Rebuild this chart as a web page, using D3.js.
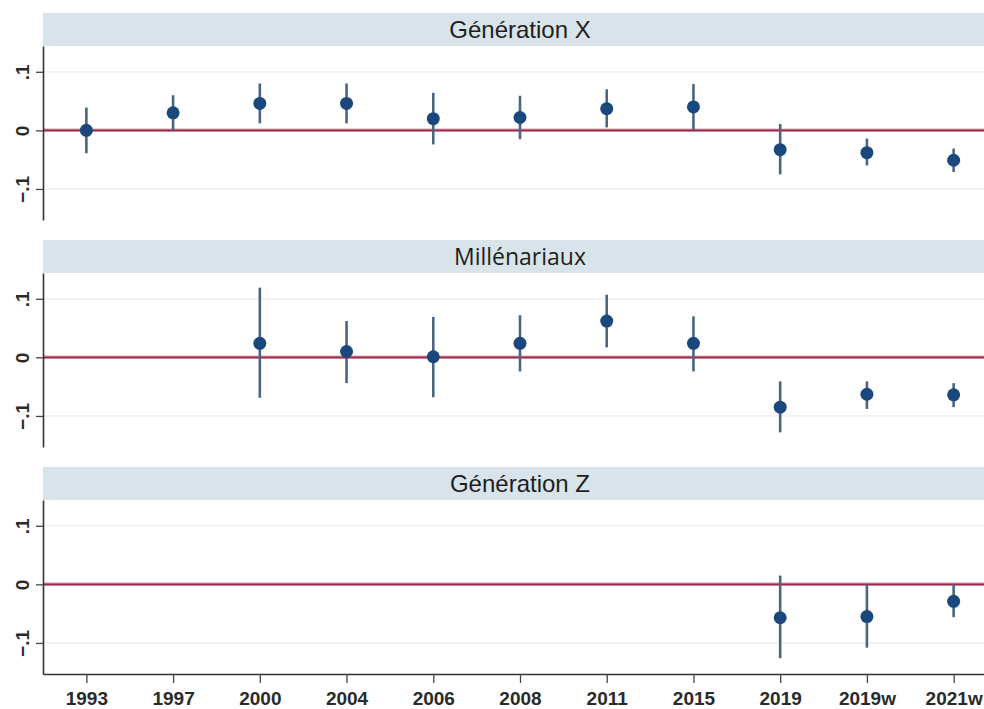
<!DOCTYPE html>
<html>
<head>
<meta charset="utf-8">
<script src="https://d3js.org/d3.v7.min.js"></script>
<style>
  body { margin: 0; background: #fff; }
  svg { display: block; }
</style>
</head>
<body>
<svg id="chart" width="984" height="709"></svg>
<script>
  // categories (survey waves)
  const years = ["1993", "1997", "2000", "2004", "2006", "2008", "2011", "2015", "2019", "2019w", "2021w"]

  // Génération X : estimate, lower CI, upper CI
  const genX_est = [0.000, 0.030, 0.046, 0.046, 0.020, 0.022, 0.037, 0.040, -0.033, -0.038, -0.051]
  const genX_lo = [-0.039, 0.000, 0.012, 0.012, -0.024, -0.015, 0.005, 0.001, -0.075, -0.060, -0.071]
  const genX_hi = [0.039, 0.060, 0.080, 0.080, 0.064, 0.059, 0.070, 0.079, 0.011, -0.014, -0.031]

  // Millénariaux
  const mill_est = [null, null, 0.024, 0.010, 0.001, 0.024, 0.062, 0.024, -0.085, -0.063, -0.064]
  const mill_lo = [null, null, -0.069, -0.044, -0.068, -0.024, 0.017, -0.024, -0.128, -0.088, -0.085]
  const mill_hi = [null, null, 0.119, 0.062, 0.069, 0.072, 0.107, 0.070, -0.041, -0.041, -0.044]

  // Génération Z
  const genZ_est = [null, null, null, null, null, null, null, null, -0.057, -0.055, -0.029]
  const genZ_lo = [null, null, null, null, null, null, null, null, -0.126, -0.108, -0.056]
  const genZ_hi = [null, null, null, null, null, null, null, null, 0.015, 0.000, 0.000]

  const panelTitles = ["Génération X", "Millénariaux", "Génération Z"]
  const yTicks = [-0.1, 0, 0.1]

  const panels = [
    { title: panelTitles[0], est: genX_est, lo: genX_lo, hi: genX_hi, font: "'Liberation Sans', Arial, sans-serif", size: 24 },
    { title: panelTitles[1], est: mill_est, lo: mill_lo, hi: mill_hi, font: "'Open Sans', sans-serif", size: 23 },
    { title: panelTitles[2], est: genZ_est, lo: genZ_lo, hi: genZ_hi, font: "'Liberation Sans', Arial, sans-serif", size: 24 }
  ]

  const svg = d3.select("#chart")
  const left = 43, right = 997
  const stripH = 33, plotH = 174, firstTop = 13, step = 227

  const x = d3.scalePoint().domain(years).range([left, right]).padding(0.5)

  panels.forEach(function (p, i) {
    const top = firstTop + step * i
    const plotTop = top + stripH
    const y = d3.scaleLinear().domain([-0.153, 0.144]).range([plotTop + plotH, plotTop])
    const g = svg.append("g")

    // strip header
    g.append("rect")
      .attr("x", left).attr("y", top)
      .attr("width", right - left).attr("height", stripH)
      .attr("fill", "#d9e4ea")
    g.append("text")
      .attr("x", (left + right) / 2)
      .attr("y", top + stripH / 2)
      .attr("dy", "0.36em")
      .attr("text-anchor", "middle")
      .style("font-family", p.font)
      .style("font-size", p.size + "px")
      .attr("fill", "#1e1e1e")
      .text(p.title)

    // light grid at +/- .1
    g.selectAll(".grid")
      .data([-0.1, 0.1])
      .enter()
      .append("line")
      .attr("x1", left).attr("x2", right)
      .attr("y1", d => y(d)).attr("y2", d => y(d))
      .attr("stroke", "#ececec")
      .attr("stroke-width", 1.2)

    // zero reference line
    g.append("line")
      .attr("x1", left).attr("x2", right)
      .attr("y1", y(0)).attr("y2", y(0))
      .attr("stroke", "#dba3b2")
      .attr("stroke-width", 3.5)
    g.append("line")
      .attr("x1", left).attr("x2", right)
      .attr("y1", y(0)).attr("y2", y(0))
      .attr("stroke", "#9a2a47")
      .attr("stroke-width", 1.6)

    // y axis
    const ya = g.append("g")
      .attr("transform", "translate(" + left + ",0)")
      .call(d3.axisLeft(y).tickValues(yTicks).tickSize(7).tickSizeOuter(0)
        .tickFormat(d => d === 0 ? "0" : d3.format(".1f")(d).replace("0.", ".")))
    ya.select(".domain").attr("stroke", "#333").attr("stroke-width", 1.6)
    ya.selectAll(".tick line").attr("stroke", "#444").attr("stroke-width", 1.3)
    ya.selectAll(".tick text")
      .attr("transform", "rotate(-90)")
      .attr("x", 0).attr("y", -14).attr("dy", "0")
      .attr("text-anchor", "middle")
      .style("font-family", "'Liberation Sans', Arial, sans-serif")
      .style("font-size", "19px")
      .style("font-weight", "bold")
      .attr("fill", "#2a2a2a")

    // confidence intervals and point estimates
    const rows = years.map((yr, k) => ({ yr: yr, est: p.est[k], lo: p.lo[k], hi: p.hi[k] }))
      .filter(d => d.est !== null)

    g.selectAll(".ci")
      .data(rows)
      .enter()
      .append("line")
      .attr("x1", d => x(d.yr)).attr("x2", d => x(d.yr))
      .attr("y1", d => y(d.lo)).attr("y2", d => y(d.hi))
      .attr("stroke", "#4c6682")
      .attr("stroke-width", 2.6)

    g.selectAll(".pt")
      .data(rows)
      .enter()
      .append("circle")
      .attr("cx", d => x(d.yr))
      .attr("cy", d => y(d.est))
      .attr("r", 6.5)
      .attr("fill", "#1a487c")

    // x axis only under the last panel
    if (i === panels.length - 1) {
      const xa = g.append("g")
        .attr("transform", "translate(0," + (plotTop + plotH) + ")")
        .call(d3.axisBottom(x).tickSize(9).tickSizeOuter(0).tickPadding(9))
      xa.select(".domain").attr("stroke", "#333").attr("stroke-width", 1.6)
      xa.selectAll(".tick line").attr("stroke", "#444").attr("stroke-width", 1.3)
      xa.selectAll(".tick text")
        .style("font-family", "'Liberation Sans', Arial, sans-serif")
        .style("font-size", "19px")
        .style("font-weight", "bold")
        .attr("fill", "#2a2a2a")
    }
  })
</script>
</body>
</html>
